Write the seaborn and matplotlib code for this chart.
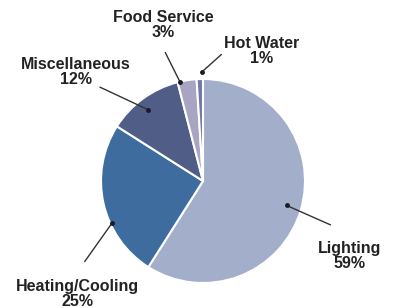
import seaborn as sns
import matplotlib.pyplot as plt

# slice data, clockwise from the top
categories = ["Lighting", "Heating/Cooling", "Miscellaneous", "Food Service", "Hot Water"]
shares = [59, 25, 12, 3, 1]
colors = ["#a3aecb", "#3e6c9e", "#4f5d87", "#a7a5c2", "#6f7aa6"]

# label text position and leader line (start near text, end inside slice), data units
label_pos = {
    "Lighting": (1.44, -0.74),
    "Heating/Cooling": (-1.23, -1.11),
    "Miscellaneous": (-1.25, 1.07),
    "Food Service": (-0.39, 1.53),
    "Hot Water": (0.57, 1.27),
}
leader = {
    "Lighting": ((1.25, -0.43), (0.82, -0.24)),
    "Heating/Cooling": ((-1.16, -0.79), (-0.89, -0.41)),
    "Miscellaneous": ((-1.01, 0.92), (-0.54, 0.70)),
    "Food Service": ((-0.37, 1.26), (-0.225, 0.97)),
    "Hot Water": ((0.18, 1.24), (-0.01, 1.07)),
}


def plot_pie(output_file="out.png"):
    sns.set_theme(style="white")
    plt.rcParams["font.family"] = ["Liberation Sans", "DejaVu Sans"]

    fig = plt.figure(figsize=(3.93, 3.08), dpi=100)
    cx, cy, r = 203 / 393, (308 - 181) / 308, 102
    ax = fig.add_axes([cx - r / 393, cy - r / 308, 2 * r / 393, 2 * r / 308])

    ax.pie(
        shares,
        colors=colors,
        startangle=90,
        counterclock=False,
        radius=1,
        wedgeprops=dict(edgecolor="white", linewidth=1.5),
    )
    ax.set_xlim(-1, 1)
    ax.set_ylim(-1, 1)
    ax.axis("off")

    for name, val in zip(categories, shares):
        x, y = label_pos[name]
        ax.text(x, y, f"{name}\n{val}%", ha="center", va="center",
                fontsize=11.5, weight="bold", color="#222222",
                linespacing=1.0, clip_on=False)
        (x0, y0), (x1, y1) = leader[name]
        ax.plot([x0, x1], [y0, y1], color="#333333", linewidth=1.0, clip_on=False)
        ax.plot([x1], [y1], "o", color="#1a1a2a", markersize=2.5, clip_on=False)

    fig.savefig(output_file, dpi=100)


if __name__ == "__main__":
    plot_pie()
